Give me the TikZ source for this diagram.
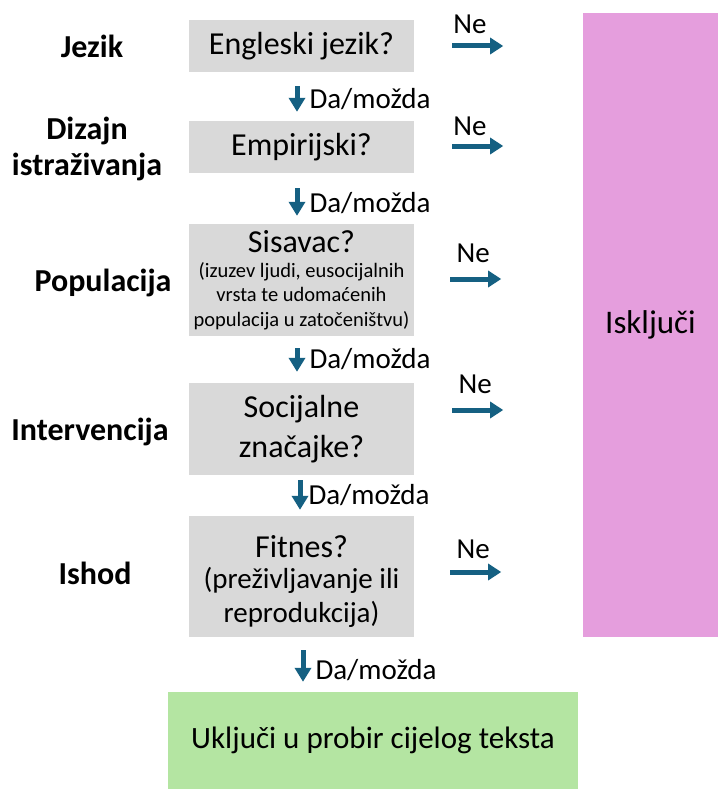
\documentclass[tikz,border=0pt]{standalone}
\usepackage{fontspec}
\setmainfont{Carlito}
\usetikzlibrary{arrows.meta,positioning}
\definecolor{qgrey}{HTML}{D9D9D9}
\definecolor{exclpink}{HTML}{E59EDD}
\definecolor{inclgreen}{HTML}{B4E5A2}
\definecolor{arrowblue}{HTML}{156082}
\newcommand{\note}{\fontsize{20.5}{24.5}\selectfont}
\newcommand{\subq}{\fontsize{29}{34}\selectfont}
\begin{document}
\begin{tikzpicture}[x=1pt, y=1pt]
    \tikzstyle{question}=[rectangle, fill=qgrey, minimum width=225pt, align=center, inner sep=0pt, font=\fontsize{32}{40}\selectfont]
    \tikzstyle{criterion}=[align=center, font=\fontsize{32}{36}\bfseries\selectfont]
    \tikzstyle{down}=[arrowblue, line width=5pt, -{Triangle[width=16pt,length=14pt]}]
    \tikzstyle{no}=[arrowblue, line width=5pt, -{Triangle[width=16pt,length=13pt]}]
    \tikzstyle{lbl}=[text=black, font=\fontsize{29}{32}\selectfont, inner sep=2pt]
    \useasboundingbox (0,0) rectangle (718,-789);

    \node (exclude) [rectangle, fill=exclpink, minimum width=135pt, minimum height=624pt, font=\fontsize{33}{36}\selectfont] at (650.5,-325) {Isključi};
    \node (include) [rectangle, fill=inclgreen, minimum width=410pt, minimum height=97pt, font=\fontsize{31}{36}\selectfont] at (373,-740.5) {Uključi u probir cijelog teksta};

    \node (q1) [question, minimum height=52pt] at (301.5,-46) {Engleski jezik?};
    \node (q2) [question, minimum height=52pt] at (301.5,-147) {Empirijski?};
    \node (q3) [question, minimum height=112pt, font=\fontsize{32}{24.5}\selectfont] at (301.5,-280) {Sisavac?\\
        \note (izuzev ljudi, eusocijalnih\\\note vrsta te udomaćenih\\\note populacija u zatočeništvu)};
    \node (q4) [question, minimum height=92pt] at (301.5,-429) {Socijalne\\značajke?};
    \node (q5) [question, minimum height=121pt, font=\fontsize{32}{34}\selectfont] at (301.5,-576.5) {\rule{0pt}{32pt}Fitnes?\\[-3pt]
        \subq (preživljavanje ili\\\subq reprodukcija)};

    \node (jezik) [criterion] at (92,-46) {Jezik};
    \node (dizajn) [criterion] at (87,-149) {Dizajn\\istraživanja};
    \node (populacija) [criterion] at (103,-283) {Populacija};
    \node (intervencija) [criterion] at (90,-432) {Intervencija};
    \node (ishod) [criterion] at (95,-573) {Ishod};

    % yes / maybe
    \draw [down, shorten <=14pt, shorten >=9pt] ([xshift=-4.5pt]q1.south) -- node [lbl, right=8pt, pos=0.55] {Da/možda} ([xshift=-4.5pt]q2.north);
    \draw [down, shorten <=15pt, shorten >=8pt] ([xshift=-4.5pt]q2.south) -- node [lbl, right=8pt, pos=0.59] {Da/možda} ([xshift=-4.5pt]q3.north);
    \draw [down, shorten <=12pt, shorten >=11pt] ([xshift=-4.5pt]q3.south) -- node [lbl, right=8pt] {Da/možda} ([xshift=-4.5pt]q4.north);
    \draw [down, shorten <=5pt, shorten >=6pt] ([xshift=-1.5pt]q4.south) -- node [lbl, right=4pt] {Da/možda} ([xshift=-1.5pt]q5.north);
    \draw [down, shorten <=13pt, shorten >=10pt] ([xshift=1.5pt]q5.south) -- node [lbl, right=8pt, pos=0.6] {Da/možda} ([xshift=1.5pt]q5.south |- include.north);

    % no
    \coordinate (ne1a) at ([xshift=38pt]q1.east);
    \coordinate (ne1b) at ([xshift=89pt]q1.east);
    \coordinate (ne2a) at ([xshift=38pt,yshift=1pt]q2.east);
    \coordinate (ne2b) at ([xshift=89pt,yshift=1pt]q2.east);
    \coordinate (ne3a) at ([xshift=36pt,yshift=1pt]q3.east);
    \coordinate (ne3b) at ([xshift=87pt,yshift=1pt]q3.east);
    \coordinate (ne4a) at ([xshift=38pt,yshift=19pt]q4.east);
    \coordinate (ne4b) at ([xshift=89pt,yshift=19pt]q4.east);
    \coordinate (ne5a) at ([xshift=36pt,yshift=4.5pt]q5.east);
    \coordinate (ne5b) at ([xshift=87pt,yshift=4.5pt]q5.east);
    \draw [no] (ne1a) -- node [lbl, above=8pt, pos=0.35] {Ne} (ne1b);
    \draw [no] (ne2a) -- node [lbl, above=6pt, pos=0.35] {Ne} (ne2b);
    \draw [no] (ne3a) -- node [lbl, above=12pt, pos=0.45] {Ne} (ne3b);
    \draw [no] (ne4a) -- node [lbl, above=12pt, pos=0.45] {Ne} (ne4b);
    \draw [no] (ne5a) -- node [lbl, above=9pt, pos=0.45] {Ne} (ne5b);
\end{tikzpicture}
\end{document}
